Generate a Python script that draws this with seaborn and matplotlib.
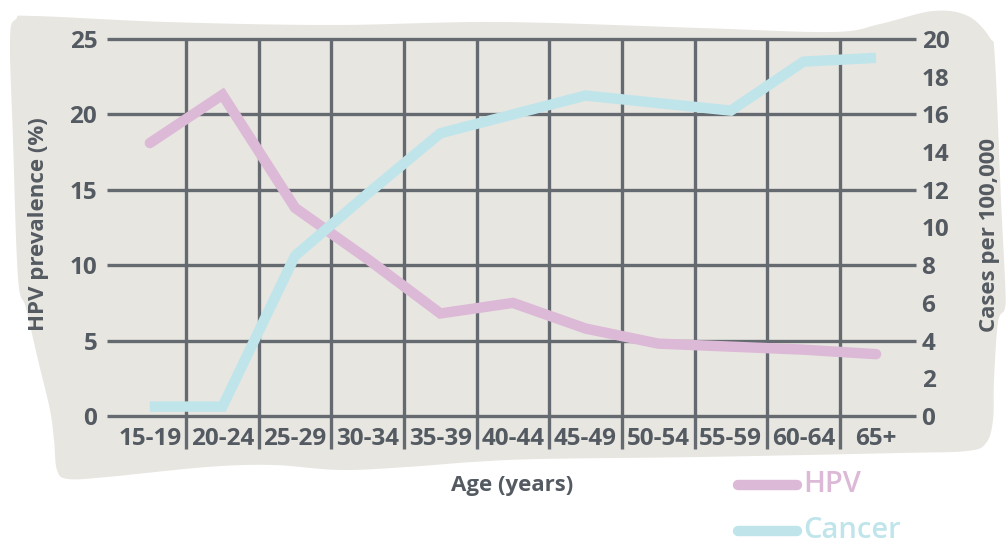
import numpy as np
import pandas as pd
import matplotlib
matplotlib.use("Agg")
import matplotlib.pyplot as plt
import seaborn as sns
from matplotlib.path import Path
from matplotlib.patches import PathPatch
from matplotlib.lines import Line2D

# ---------------- data ----------------
ages = ["15-19", "20-24", "25-29", "30-34", "35-39", "40-44",
        "45-49", "50-54", "55-59", "60-64", "65+"]
hpv_prevalence = [18.1, 21.3, 13.8, 10.4, 6.8, 7.5, 5.8, 4.8, 4.6, 4.4, 4.1]
cancer_cases = [0.5, 0.5, 8.5, 11.8, 15.0, 16.0, 17.0, 16.6, 16.2, 18.8, 19.0]
left_ticks = [0, 5, 10, 15, 20, 25]
right_ticks = [0, 2, 4, 6, 8, 10, 12, 14, 16, 18, 20]

# ---------------- style ----------------
sns.set_theme(style="white")
plt.rcParams["font.family"] = ["Open Sans", "DejaVu Sans"]

BG = "#e8e6e1"
GRID = "#646a70"
TXT = "#545a61"
PINK = "#dcb9d6"
BLUE = "#bfe5eb"
WEIGHT = "bold"

W, H = 1006, 544
fig = plt.figure(figsize=(W / 100, H / 100), dpi=100)
fig.patch.set_facecolor("white")

def fx(px):
    return px / W

def fy(py):
    return 1 - py / H

# ---------------- axes ----------------
x0, x1, ytop, ybot = 107, 916, 39, 416
ax = fig.add_axes([fx(x0), fy(ybot), (x1 - x0) / W, (ybot - ytop) / H])
ax.set_facecolor("none")
ax2 = ax.twinx()
ax2.set_facecolor("none")

# ---------------- background blob ----------------
blob_px = [
    (16, 19), (35, 16), (167, 22), (333, 25), (500, 22), (700, 28), (833, 32),
    (880, 24), (933, 11), (968, 16), (990, 38), (995, 60), (1001, 200), (1005, 280),
    (1005, 308), (998, 322), (994, 380), (993, 420), (986, 443), (967, 451),
    (900, 453), (700, 457), (540, 459), (473, 462), (407, 467), (340, 470),
    (273, 465), (207, 467), (107, 477), (68, 479), (57, 470), (54, 440),
    (50, 410), (38, 360), (26, 308), (18, 278), (13, 140), (10, 40),
]
pts = np.array(blob_px, dtype=float)
n = len(pts)
smooth = []
for i in range(n):
    p0, p1, p2, p3 = pts[(i - 1) % n], pts[i], pts[(i + 1) % n], pts[(i + 2) % n]
    for t in np.linspace(0, 1, 12, endpoint=False):
        t2, t3 = t * t, t * t * t
        smooth.append(0.5 * ((2 * p1) + (-p0 + p2) * t +
                             (2 * p0 - 5 * p1 + 4 * p2 - p3) * t2 +
                             (-p0 + 3 * p1 - 3 * p2 + p3) * t3))
smooth = np.array(smooth)
verts = np.column_stack([smooth[:, 0] / W, 1 - smooth[:, 1] / H])
verts = np.vstack([verts, verts[:1]])
codes = [Path.MOVETO] + [Path.LINETO] * (len(verts) - 2) + [Path.CLOSEPOLY]
blob = PathPatch(Path(verts, codes), facecolor=BG, edgecolor="none",
                 transform=fig.transFigure, zorder=-10, clip_on=False)
ax.add_artist(blob)

xpos = np.arange(len(ages))
df = pd.DataFrame({"x": xpos, "hpv": hpv_prevalence, "cancer": cancer_cases})

xlo, xhi = -0.59, 10.55
ax.set_xlim(xlo, xhi)
ax.set_ylim(0, 25)
ax2.set_ylim(0, 20)

# grid
ax.hlines(left_ticks, xlo, xhi, color=GRID, lw=2.4, clip_on=False, zorder=1)
ax.vlines(np.arange(0.5, len(ages) - 1, 1), -2.2, 25, color=GRID, lw=2.4,
          clip_on=False, zorder=1)

sns.lineplot(data=df, x="x", y="hpv", ax=ax, color=PINK, lw=7.5, zorder=3,
             solid_capstyle="round", solid_joinstyle="miter", clip_on=False)
sns.lineplot(data=df, x="x", y="cancer", ax=ax2, color=BLUE, lw=7.5, zorder=3,
             solid_capstyle="butt", solid_joinstyle="miter", clip_on=False)

for a in (ax, ax2):
    for s in a.spines.values():
        s.set_visible(False)
    a.set_xlabel("")
    a.set_ylabel("")
    a.grid(False)

ax.set_xticks(xpos)
ax.set_xticklabels(ages)
ax.set_yticks(left_ticks)
ax2.set_yticks(right_ticks)
ax.tick_params(axis="x", length=0, pad=8, labelsize=17.5, labelcolor=TXT)
ax.tick_params(axis="y", length=0, pad=7, labelsize=17.5, labelcolor=TXT)
ax2.tick_params(axis="y", length=0, pad=4, labelsize=17.5, labelcolor=TXT)
for lab in ax.get_xticklabels() + ax.get_yticklabels() + ax2.get_yticklabels():
    lab.set_fontweight(WEIGHT)

# axis titles
fig.text(fx(39), fy(224), "HPV prevalence (%)", rotation=90, ha="center", va="center",
         fontsize=16, fontweight=WEIGHT, color=TXT)
fig.text(fx(990), fy(235), "Cases per 100,000", rotation=90, ha="center", va="center",
         fontsize=16, fontweight=WEIGHT, color=TXT)
fig.text(fx(512), fy(486), "Age (years)", ha="center", va="center",
         fontsize=16, fontweight=WEIGHT, color=TXT)

# legend
for label, col, yl, yb in [("HPV", PINK, 485, 492), ("Cancer", BLUE, 531, 538)]:
    fig.add_artist(Line2D([fx(738), fx(797)], [fy(yl), fy(yl)], transform=fig.transFigure,
                          color=col, lw=7.5, solid_capstyle="round"))
    fig.text(fx(803), fy(yb), label, ha="left", va="baseline", fontsize=21,
             fontweight="semibold", color=col)

fig.savefig("out.png", dpi=100, facecolor="white")
